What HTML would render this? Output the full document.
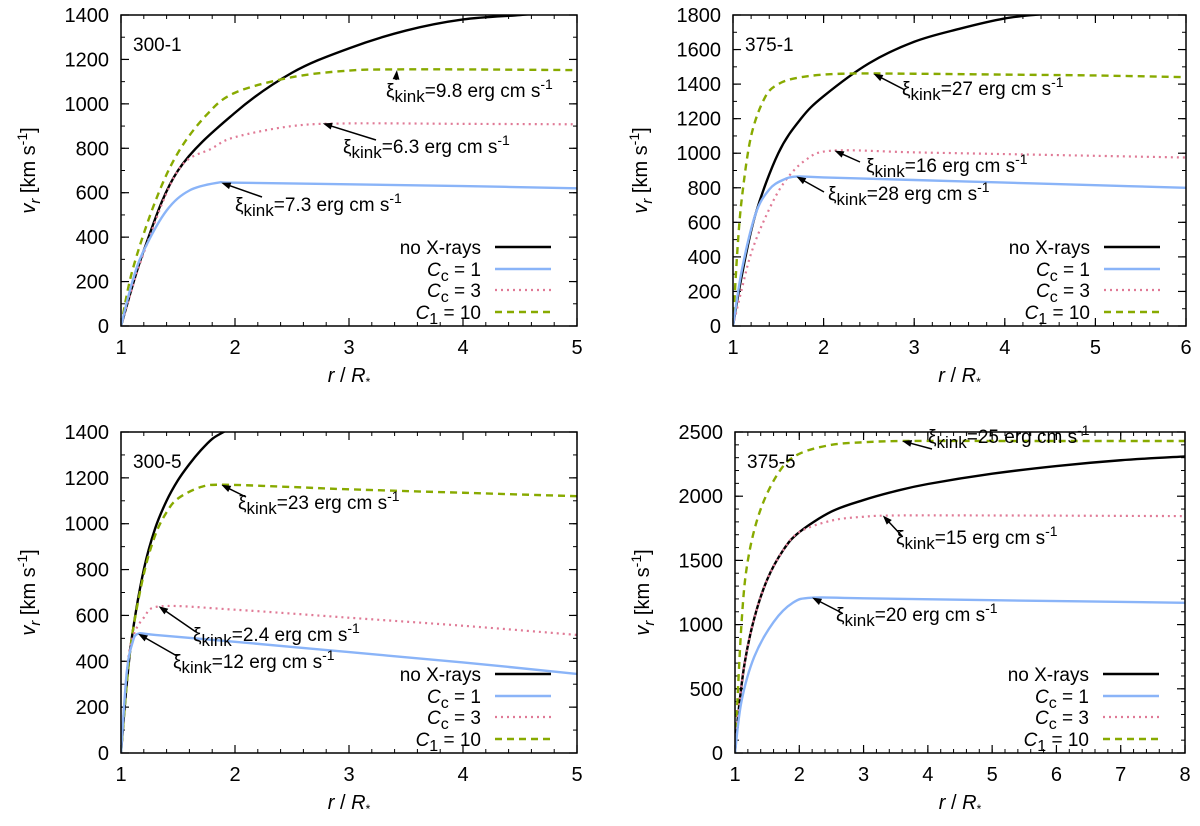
<!DOCTYPE html>
<html><head><meta charset="utf-8"><style>
html,body{margin:0;padding:0;background:#fff;}
svg text{font-family:"Liberation Sans",sans-serif;fill:#000;}
</style></head><body>
<svg id="chart" width="1200" height="821" xmlns="http://www.w3.org/2000/svg"></svg>
<script>
// ---- Data ----
const p1_noX_r=[1,1.2,1.5,2,2.5,3,3.5,4,4.5,4.7];
const p1_noX_v=[0,340,700,960,1140,1250,1330,1380,1400,1410];
const p1_c1_r=[1,1.1,1.2,1.4,1.6,1.85,2,3,4,5];
const p1_c1_v=[0,200,340,520,610,645,645,638,630,620];
const p1_c3_r=[1,1.2,1.5,1.8,2,2.5,3,4,5];
const p1_c3_v=[0,330,700,800,850,900,912,910,908];
const p1_c10_r=[1,1.1,1.3,1.5,1.75,2,2.5,3,3.4,4,5];
const p1_c10_v=[0,250,560,780,950,1050,1120,1150,1155,1155,1152];

const p2_noX_r=[1,1.1,1.25,1.5,1.75,2,2.5,3,3.5,4,4.4,4.6];
const p2_noX_v=[0,300,650,1000,1200,1330,1520,1645,1720,1780,1805,1820];
const p2_c1_r=[1,1.1,1.25,1.4,1.55,1.7,2,3,4,5,6];
const p2_c1_v=[0,330,650,790,845,865,860,845,830,815,800];
const p2_c3_r=[1,1.1,1.2,1.35,1.55,1.8,2.1,3,4,5,6];
const p2_c3_v=[0,220,420,620,820,960,1015,1005,995,985,975];
const p2_c10_r=[1,1.05,1.1,1.2,1.35,1.5,1.75,2.2,3,4,5,6];
const p2_c10_v=[0,450,750,1100,1320,1400,1440,1460,1460,1455,1450,1440];

const p3_noX_r=[1,1.05,1.1,1.2,1.3,1.4,1.5,1.6,1.7,1.8,1.9,2];
const p3_noX_v=[0,300,520,800,980,1100,1190,1260,1320,1370,1400,1430];
const p3_c1_r=[1,1.05,1.1,1.15,1.3,2,3,4,5];
const p3_c1_v=[0,350,480,520,515,485,440,395,345];
const p3_c3_r=[1,1.05,1.1,1.2,1.35,2,3,4,5];
const p3_c3_v=[0,350,500,590,640,625,590,555,515];
const p3_c10_r=[1,1.05,1.1,1.2,1.3,1.4,1.5,1.7,1.9,2.5,3,4,5];
const p3_c10_v=[0,300,520,780,950,1050,1110,1160,1170,1160,1150,1135,1120];

const p4_noX_r=[1,1.05,1.15,1.3,1.5,1.75,2,2.5,3,3.5,4,5,6,7,8];
const p4_noX_v=[0,300,700,1050,1350,1580,1720,1880,1970,2040,2095,2175,2235,2280,2310];
const p4_c1_r=[1,1.1,1.3,1.6,1.9,2.2,3,5,8];
const p4_c1_v=[0,400,750,1020,1170,1210,1205,1190,1170];
const p4_c3_r=[1,1.05,1.15,1.3,1.5,1.75,2,2.5,3,3.5,5,8];
const p4_c3_v=[0,300,700,1050,1350,1580,1720,1810,1840,1850,1850,1845];
const p4_c10_r=[1,1.1,1.2,1.4,1.7,2,2.5,3,3.6,5,8];
const p4_c10_v=[0,1000,1500,1900,2200,2330,2400,2420,2430,2430,2430];

const p1_xticks=[1,2,3,4,5], p1_yticks=[0,200,400,600,800,1000,1200,1400];
const p2_xticks=[1,2,3,4,5,6], p2_yticks=[0,200,400,600,800,1000,1200,1400,1600,1800];
const p3_xticks=[1,2,3,4,5], p3_yticks=[0,200,400,600,800,1000,1200,1400];
const p4_xticks=[1,2,3,4,5,6,7,8], p4_yticks=[0,500,1000,1500,2000,2500];

const p1_notes=["9.8","6.3","7.3"], p2_notes=["27","16","28"], p3_notes=["23","2.4","12"], p4_notes=["25","15","20"];

const NS="http://www.w3.org/2000/svg";
const svg=document.getElementById('chart');
function mk(tag,attrs,parent){const e=document.createElementNS(NS,tag);for(const k in attrs)e.setAttribute(k,attrs[k]);(parent||svg).appendChild(e);return e;}

const styles={
 noX:{stroke:'#000','stroke-width':2.4},
 c1:{stroke:'#8ab4f8','stroke-width':2.4},
 c3:{stroke:'#e07a96','stroke-width':2.2,'stroke-dasharray':'2,4'},
 c10:{stroke:'#88aa00','stroke-width':2.4,'stroke-dasharray':'7,5'}
};

function panel(id,L,R,T,B,xmin,xmax,ymax,xt,yt,minX,minY,series,notes,title){
 const g=mk('g',{});
 
 
 const sx=v=>L+(v-xmin)/(xmax-xmin)*(R-L);
 const sy=v=>B-v/ymax*(B-T);
 const cp=mk('clipPath',{id:'clip'+id},g);
 mk('rect',{x:L,y:T,width:R-L,height:B-T},cp);
 for(const v of xt){
  const x=sx(v);
  mk('line',{x1:x,x2:x,y1:B,y2:B-8,stroke:'#000','stroke-width':1.2},g);
  mk('line',{x1:x,x2:x,y1:T,y2:T+8,stroke:'#000','stroke-width':1.2},g);
  const t=mk('text',{x:x,y:B+28,'text-anchor':'middle','font-size':20},g);t.textContent=v;
  
 }
 for(let v=xmin;v<xmax-1e-9;v+=minX){const x=sx(v);
  mk('line',{x1:x,x2:x,y1:B,y2:B-4,stroke:'#000','stroke-width':1},g);
  mk('line',{x1:x,x2:x,y1:T,y2:T+4,stroke:'#000','stroke-width':1},g);}
 for(const v of yt){
  const y=sy(v);
  mk('line',{x1:L,x2:L+8,y1:y,y2:y,stroke:'#000','stroke-width':1.2},g);
  mk('line',{x1:R,x2:R-8,y1:y,y2:y,stroke:'#000','stroke-width':1.2},g);
  const t=mk('text',{x:L-12,y:y+7,'text-anchor':'end','font-size':20},g);t.textContent=v;
  
 }
 for(let v=0;v<ymax;v+=minY){const y=sy(v);
  mk('line',{x1:L,x2:L+4,y1:y,y2:y,stroke:'#000','stroke-width':1},g);
  mk('line',{x1:R,x2:R-4,y1:y,y2:y,stroke:'#000','stroke-width':1},g);}
 const sg=mk('g',{'clip-path':'url(#clip'+id+')'},g);
 for(const key of ['noX','c10','c3','c1']){
  const [rs,vs]=series[key];
  const pts=rs.map((r,i)=>[sx(r),sy(vs[i])]);
  let d='M'+pts[0][0]+','+pts[0][1];
  for(let i=0;i<pts.length-1;i++){
   const p0=pts[Math.max(0,i-1)],p1=pts[i],p2=pts[i+1],p3=pts[Math.min(pts.length-1,i+2)];
   const c1x=p1[0]+(p2[0]-p0[0])/6,c1y=p1[1]+(p2[1]-p0[1])/6,c2x=p2[0]-(p3[0]-p1[0])/6,c2y=p2[1]-(p3[1]-p1[1])/6;
   d+=` C${c1x},${c1y} ${c2x},${c2y} ${p2[0]},${p2[1]}`;
  }
  const p=mk('path',Object.assign({d:d,fill:'none'},styles[key]),sg);
  
  
 }
 for(const n of notes){
  const [val,tr,tv,lx,ly,ax,ay]=n;
  const tx=sx(tr),ty=sy(tv);
  const ang=Math.atan2(ty-ay,tx-ax);
  mk('line',{x1:ax,y1:ay,x2:tx-6*Math.cos(ang),y2:ty-6*Math.sin(ang),stroke:'#000','stroke-width':1.5},g);
  const a1=ang+Math.PI-0.35,a2=ang+Math.PI+0.35;
  mk('polygon',{points:`${tx},${ty} ${tx+10*Math.cos(a1)},${ty+10*Math.sin(a1)} ${tx+10*Math.cos(a2)},${ty+10*Math.sin(a2)}`,fill:'#000'},g);
  const t=mk('text',{x:lx,y:ly,'font-size':19},g);
  
  
  t.innerHTML=`ξ<tspan font-size="17" dy="5">kink</tspan><tspan dy="-5">=${val} erg cm s</tspan><tspan font-size="14" dy="-8">-1</tspan>`;
 }
 mk('rect',{x:L,y:T,width:R-L,height:B-T,fill:'none',stroke:'#000','stroke-width':1.5},g);
 const tl=mk('text',{x:L+12,y:T+36,'font-size':19},g);tl.textContent=title;
 
 const yt2=mk('text',{transform:`translate(${L-86},${(T+B)/2}) rotate(-90)`,'text-anchor':'middle','font-size':20},g);
 
 yt2.innerHTML='<tspan font-style="italic">v</tspan><tspan font-style="italic" font-size="15" dy="5">r</tspan><tspan dy="-5"> [km s</tspan><tspan font-size="14" dy="-8">-1</tspan><tspan dy="8">]</tspan>';
 const xt2=mk('text',{x:(L+R)/2,y:B+56,'text-anchor':'middle','font-size':20},g);
 
 xt2.innerHTML='<tspan font-style="italic">r</tspan> / <tspan font-style="italic">R</tspan><tspan font-size="12" dy="4">*</tspan>';
 const lg=mk('g',{},g);
 
 const labels=[['noX','no X-rays'],['c1','<tspan font-style="italic">C</tspan><tspan font-size="16" dy="5">c</tspan><tspan dy="-5"> = 1</tspan>'],['c3','<tspan font-style="italic">C</tspan><tspan font-size="16" dy="5">c</tspan><tspan dy="-5"> = 3</tspan>'],['c10','<tspan font-style="italic">C</tspan><tspan font-size="16" dy="5">1</tspan><tspan dy="-5"> = 10</tspan>']];
 const offs=[79,57,36,14];
 labels.forEach((l,i)=>{
  const y=B-offs[i];
  const t=mk('text',{x:R-96,y:y+7,'text-anchor':'end','font-size':19},lg);t.innerHTML=l[1];
  
  mk('line',Object.assign({x1:R-82,x2:R-26,y1:y,y2:y},styles[l[0]]),lg);
 });
}

panel(1,121,577,15,326,1,5,1400,p1_xticks,p1_yticks,0.2,100,
 {noX:[p1_noX_r,p1_noX_v],c1:[p1_c1_r,p1_c1_v],c3:[p1_c3_r,p1_c3_v],c10:[p1_c10_r,p1_c10_v]},
 [[p1_notes[0],3.42,1152,386,97,396,80],[p1_notes[1],2.77,912,343,153,376,140],[p1_notes[2],1.88,645,235,211,262,197]],'300-1');
panel(2,733,1186,15,326,1,6,1800,p2_xticks,p2_yticks,0.2,100,
 {noX:[p2_noX_r,p2_noX_v],c1:[p2_c1_r,p2_c1_v],c3:[p2_c3_r,p2_c3_v],c10:[p2_c10_r,p2_c10_v]},
 [[p2_notes[0],2.55,1460,902,95,905,90],[p2_notes[1],2.12,1015,866,172,860,162],[p2_notes[2],1.7,865,828,200,824,192]],'375-1');
panel(3,121,577,432,753,1,5,1400,p3_xticks,p3_yticks,0.2,100,
 {noX:[p3_noX_r,p3_noX_v],c1:[p3_c1_r,p3_c1_v],c3:[p3_c3_r,p3_c3_v],c10:[p3_c10_r,p3_c10_v]},
 [[p3_notes[0],1.88,1170,238,509,246,497],[p3_notes[1],1.33,640,193,641,196,632],[p3_notes[2],1.15,520,173,668,177,656]],'300-5');
panel(4,735,1185,432,753,1,8,2500,p4_xticks,p4_yticks,0.2,100,
 {noX:[p4_noX_r,p4_noX_v],c1:[p4_c1_r,p4_c1_v],c3:[p4_c3_r,p4_c3_v],c10:[p4_c10_r,p4_c10_v]},
 [[p4_notes[0],3.6,2430,928,443,932,449],[p4_notes[1],3.3,1850,896,544,902,536],[p4_notes[2],2.2,1210,836,621,842,613]],'375-5');
</script>
</body></html>
